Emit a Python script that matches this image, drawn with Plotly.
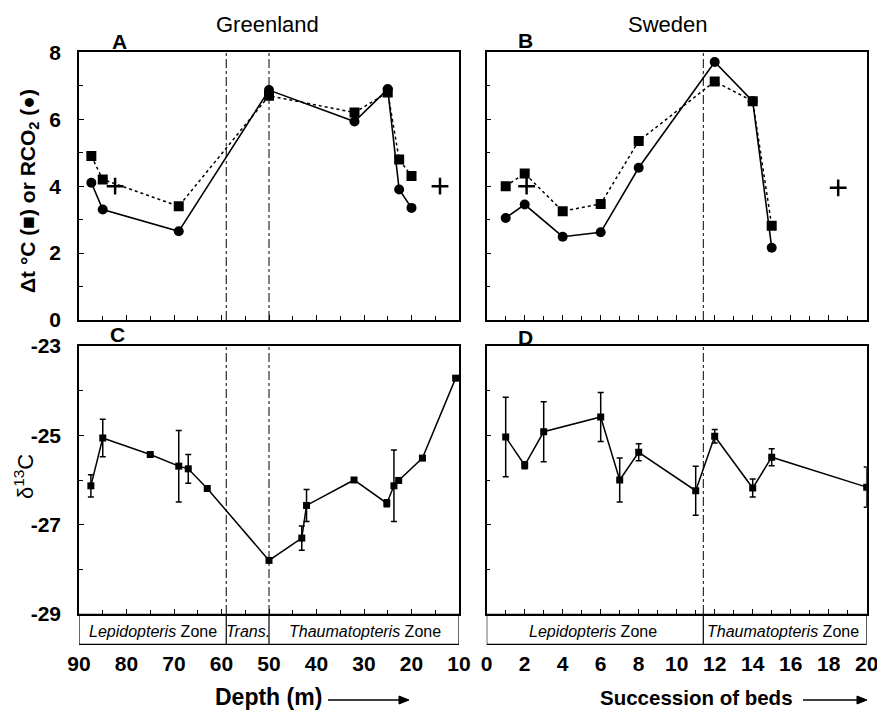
import plotly.graph_objects as go

# ---------------- data ----------------
# Panel A (Greenland): depth (m), delta-t (squares), RCO2 (circles)
depth_A = [87.4, 85.0, 69.0, 50.0, 32.0, 25.0, 22.6, 20.0]
dt_A = [4.9, 4.2, 3.4, 6.7, 6.2, 6.8, 4.8, 4.3]
rco2_A = [4.1, 3.3, 2.65, 6.87, 5.93, 6.9, 3.9, 3.35]
plus_A_x = [82.4, 14.0]
plus_A_y = [4.0, 4.0]

# Panel B (Sweden): bed number
beds_B = [1, 2, 4, 6, 8, 12, 14, 15]
dt_B = [4.0, 4.38, 3.25, 3.47, 5.35, 7.13, 6.54, 2.82]
rco2_B = [3.05, 3.45, 2.49, 2.62, 4.55, 7.71, 6.54, 2.16]
plus_B_x = [2.1, 18.5]
plus_B_y = [4.0, 3.95]

# Panel C (Greenland d13C)
depth_C = [87.5, 85.0, 75.0, 69.0, 67.0, 63.0, 50.0, 43.1, 42.1, 32.1, 25.2, 23.7, 22.7, 17.7, 10.7]
d13C_C = [-26.13, -25.06, -25.43, -25.69, -25.75, -26.19, -27.8, -27.3, -26.57, -26.0, -26.52, -26.13, -26.01, -25.51, -23.72]
err_C = [0.25, 0.42, 0, 0.8, 0.32, 0, 0, 0.27, 0.36, 0, 0.08, 0.8, 0, 0, 0]

# Panel D (Sweden d13C)
beds_D = [1, 2, 3, 6, 7, 8, 11, 12, 14, 15, 20]
d13C_D = [-25.04, -25.67, -24.92, -24.59, -26.0, -25.38, -26.24, -25.02, -26.18, -25.49, -26.16]
err_D = [0.89, 0.08, 0.67, 0.55, 0.49, 0.19, 0.55, 0.15, 0.2, 0.19, 0.45]

# Zone boundaries
green_bounds = [59, 50]
sweden_bound = [11.4]

# d13C tick labels (plain hyphen as in the original)
d13C_tickvals = [-29, -27, -25, -23]
d13C_ticktext = ["-29", "-27", "-25", "-23"]

W, H = 877, 711
def px(x):
    return x / W
def py(y):
    return 1 - y / H

TICKFONT = dict(family="Liberation Sans, Arial", size=21, color="black", weight="bold")

fig = go.Figure()

# Panel A
fig.add_trace(go.Scatter(x=depth_A, y=dt_A, mode="lines+markers", xaxis="x", yaxis="y",
                         line=dict(color="black", width=1.5, dash="dot"),
                         marker=dict(symbol="square", size=10, color="black")))
fig.add_trace(go.Scatter(x=depth_A, y=rco2_A, mode="lines+markers", xaxis="x", yaxis="y",
                         line=dict(color="black", width=1.6),
                         marker=dict(symbol="circle", size=10, color="black")))
fig.add_trace(go.Scatter(x=plus_A_x, y=plus_A_y, mode="markers", xaxis="x", yaxis="y",
                         marker=dict(symbol="cross-thin", size=12, line=dict(color="black", width=2.5))))
# Panel B
fig.add_trace(go.Scatter(x=beds_B, y=dt_B, mode="lines+markers", xaxis="x2", yaxis="y2",
                         line=dict(color="black", width=1.5, dash="dot"),
                         marker=dict(symbol="square", size=10, color="black")))
fig.add_trace(go.Scatter(x=beds_B, y=rco2_B, mode="lines+markers", xaxis="x2", yaxis="y2",
                         line=dict(color="black", width=1.6),
                         marker=dict(symbol="circle", size=10, color="black")))
fig.add_trace(go.Scatter(x=plus_B_x, y=plus_B_y, mode="markers", xaxis="x2", yaxis="y2",
                         marker=dict(symbol="cross-thin", size=12, line=dict(color="black", width=2.5))))
# Panel C
fig.add_trace(go.Scatter(x=depth_C, y=d13C_C, mode="lines+markers", xaxis="x3", yaxis="y3",
                         line=dict(color="black", width=1.5),
                         marker=dict(symbol="square", size=7, color="black"),
                         error_y=dict(type="data", array=err_C, visible=True, thickness=1.5, width=3, color="black")))
# Panel D
fig.add_trace(go.Scatter(x=beds_D, y=d13C_D, mode="lines+markers", xaxis="x4", yaxis="y4",
                         line=dict(color="black", width=1.5),
                         marker=dict(symbol="square", size=7, color="black"),
                         error_y=dict(type="data", array=err_D, visible=True, thickness=1.5, width=3, color="black")))

xL = [px(79), px(459)]
xR = [px(486.7), px(866.7)]
yT = [py(320), py(52.3)]
yB = [py(614), py(346)]

def xax(dom, rng, dtick, minor, labels, anchor):
    d = dict(domain=dom, range=rng, anchor=anchor, showgrid=False, zeroline=False, automargin=False,
             showline=True, linecolor="black", linewidth=1.5, mirror=True,
             ticks="inside", ticklen=5, tickwidth=1, tickcolor="black",
             dtick=dtick, tick0=0,
             minor=dict(dtick=minor, ticks="inside", ticklen=4, tickcolor="black", tickwidth=1, showgrid=False),
             showticklabels=labels, tickfont=TICKFONT, ticklabeloverflow="allow")
    if labels:
        d["ticklabelstandoff"] = 30
    return d

def yax(dom, rng, dtick, tick0, labels, anchor, tv=None, tt=None):
    d = dict(domain=dom, range=rng, anchor=anchor, showgrid=False, zeroline=False, automargin=False,
             showline=True, linecolor="black", linewidth=1.5, mirror=True,
             ticks="inside", ticklen=5, tickwidth=1, tickcolor="black",
             dtick=dtick, tick0=tick0,
             minor=dict(dtick=1, tick0=tick0, ticks="inside", ticklen=4, tickcolor="black", tickwidth=1, showgrid=False),
             showticklabels=labels, tickfont=TICKFONT, ticklabelstandoff=12, ticklabeloverflow="allow")
    if tv is not None:
        d["tickmode"] = "array"
        d["tickvals"] = tv
        d["ticktext"] = tt
    return d

fig.update_layout(
    width=W, height=H, margin=dict(l=0, r=0, t=0, b=0, autoexpand=False),
    paper_bgcolor="white", plot_bgcolor="white", showlegend=False,
    xaxis=xax(xL, [90, 10], 10, 5, False, "y"),
    yaxis=yax(yT, [0, 8], 2, 0, True, "x"),
    xaxis2=xax(xR, [0, 20], 2, 1, False, "y2"),
    yaxis2=yax(yT, [0, 8], 2, 0, False, "x2"),
    xaxis3=xax(xL, [90, 10], 10, 5, True, "y3"),
    yaxis3=yax(yB, [-29, -23], 2, -29, True, "x3", d13C_tickvals, d13C_ticktext),
    xaxis4=xax(xR, [0, 20], 2, 1, True, "y4"),
    yaxis4=yax(yB, [-29, -23], 2, -29, False, "x4"),
)

shapes = []
# dash-dot boundary lines
for xa, ya, vals in [("x", "y", green_bounds), ("x3", "y3", green_bounds),
                     ("x2", "y2", sweden_bound), ("x4", "y4", sweden_bound)]:
    for v in vals:
        shapes.append(dict(type="line", xref=xa, yref=ya + " domain", x0=v, x1=v, y0=0, y1=1,
                           line=dict(color="black", width=1, dash="dashdot")))
# zone boxes
zb0, zb1 = py(644.3), py(614.3)
shapes.append(dict(type="rect", xref="x3", yref="paper", x0=90, x1=10, y0=zb0, y1=zb1,
                   line=dict(color="black", width=1.2)))
shapes.append(dict(type="rect", xref="x4", yref="paper", x0=0, x1=20, y0=zb0, y1=zb1,
                   line=dict(color="black", width=1.2)))
for v in green_bounds:
    shapes.append(dict(type="line", xref="x3", yref="paper", x0=v, x1=v, y0=zb0, y1=zb1,
                       line=dict(color="black", width=1.2)))
for v in sweden_bound:
    shapes.append(dict(type="line", xref="x4", yref="paper", x0=v, x1=v, y0=zb0, y1=zb1,
                       line=dict(color="black", width=1.2)))
# arrows next to the axis titles (line + arrowhead)
for x0, x1 in [(328, 409), (803, 867)]:
    ya = py(700)
    shapes.append(dict(type="line", xref="paper", yref="paper", x0=px(x0), x1=px(x1 - 2), y0=ya, y1=ya,
                       line=dict(color="black", width=1.4)))
    shapes.append(dict(type="path", xref="paper", yref="paper",
                       path="M %f,%f L %f,%f L %f,%f Z" % (px(x1), ya, px(x1 - 10), py(696), px(x1 - 10), py(704)),
                       fillcolor="black", line=dict(color="black", width=1)))
fig.update_layout(shapes=shapes)

ann = []
def text(x, y, s, size, bold=False, xref="paper", yref="paper", angle=0, family="Liberation Sans, Arial"):
    ann.append(dict(x=x, y=y, xref=xref, yref=yref, text=("<b>%s</b>" % s) if bold else s,
                    showarrow=False, textangle=angle, xanchor="center", yanchor="middle",
                    font=dict(family=family, size=size, color="black")))

text(px(267.5), py(25), "Greenland", 22)
text(px(668), py(25), "Sweden", 22)
text(px(119), py(41.5), "A", 21, True)
text(px(525), py(40), "B", 21, True)
text(px(117), py(335), "C", 21, True)
text(px(525), py(337), "D", 21, True)
text(px(29), py(191), "Δt °C (■) or RCO<sub>2</sub> (●)", 21, True, angle=-90)
text(px(24), py(477), "δ<sup>13</sup>C", 22, False, angle=-90)
zy = py(631.7)
text(74.5, zy, "<i>Lepidopteris</i> Zone", 16, xref="x3")
text(54.5, zy, "<i>Trans.</i>", 16, xref="x3")
text(29.8, zy, "<i>Thaumatopteris</i> Zone", 16, xref="x3")
text(5.6, zy, "<i>Lepidopteris</i> Zone", 16, xref="x4")
text(15.6, zy, "<i>Thaumatopteris</i> Zone", 16, xref="x4")
text(px(268), py(697), "Depth (m)", 23, True)
text(px(696.7), py(697), "Succession of beds", 20.5, True)
fig.update_layout(annotations=ann)

# remove the default page margin so the 877x711 figure fills the window exactly
fig.write_html("out.html", config={"displayModeBar": False},
               post_script="document.body.style.margin='0';document.body.style.overflow='hidden';")
